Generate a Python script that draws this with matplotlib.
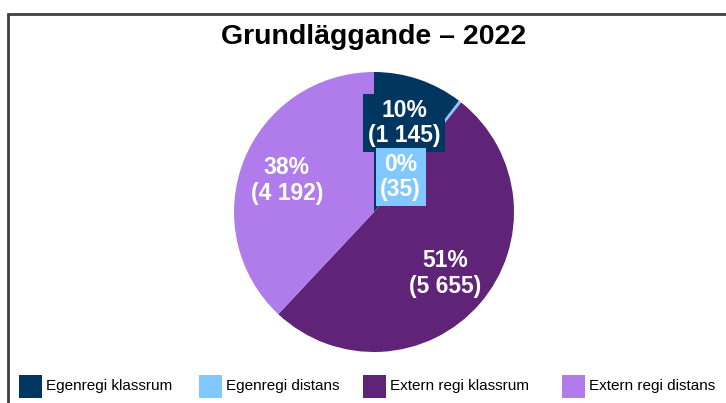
import matplotlib
matplotlib.use("Agg")
import matplotlib.pyplot as plt
from matplotlib.patches import Rectangle
import numpy as np

plt.rcParams['font.family'] = ['Liberation Sans', 'DejaVu Sans']

title = "Grundläggande – 2022"
categories = ["Egenregi klassrum", "Egenregi distans", "Extern regi klassrum", "Extern regi distans"]
values = [1145, 35, 5655, 4192]
colors = ["#003660", "#80C8FF", "#5F2378", "#B07CEB"]

W, H = 726, 403
fig = plt.figure(figsize=(W / 100, H / 100), dpi=100)

# frame border
fig.add_artist(Rectangle((8 / W, -0.1), 1.2, (H - 14) / H + 0.1, transform=fig.transFigure,
                         fill=False, ec="#404040", lw=2, clip_on=False))

cx, cy, r = 374, 212, 140
ax = fig.add_axes([(cx - r) / W, (H - cy - r) / H, 2 * r / W, 2 * r / H])
total = sum(values)

def fmt(v):
    return f"{round(100 * v / total):.0f}%\n({v:,})".replace(",", " ")

wedges, texts, autotexts = ax.pie(values, colors=colors, startangle=90, counterclock=False,
                                  autopct=lambda p: "", pctdistance=0.67,
                                  wedgeprops=dict(linewidth=0))
for i, (t, v) in enumerate(zip(autotexts, values)):
    t.set_text(fmt(v))
    t.set_color("white")
    t.set_fontsize(16.5)
    t.set_fontweight("bold")
    t.set_linespacing(1.15)
    if i < 2:
        t.set_bbox(dict(boxstyle="square,pad=0.2", fc=colors[i], ec="none"))
# small slice label placed inside the chart below first label
autotexts[1].set_position((0.19, 0.25))
autotexts[3].set_position(np.array(autotexts[3].get_position()) + np.array([0, -0.02]))
ax.set_xlim(-1, 1)
ax.set_ylim(-1, 1)
ax.set_aspect("equal")
ax.axis("off")

fig.text(cx / W, 1 - 37 / H, title, ha="center", va="center", fontsize=20.5, fontweight="bold")

# legend
leg_x = [19, 199, 363, 562]
ly = 386
for x, c, lab in zip(leg_x, colors, categories):
    fig.add_artist(Rectangle((x / W, 1 - (ly + 11.5) / H), 23 / W, 23 / H, transform=fig.transFigure,
                             fc=c, ec="none"))
    fig.text((x + 27) / W, 1 - ly / H, lab, ha="left", va="center", fontsize=11)

fig.savefig("out.png", dpi=100)
